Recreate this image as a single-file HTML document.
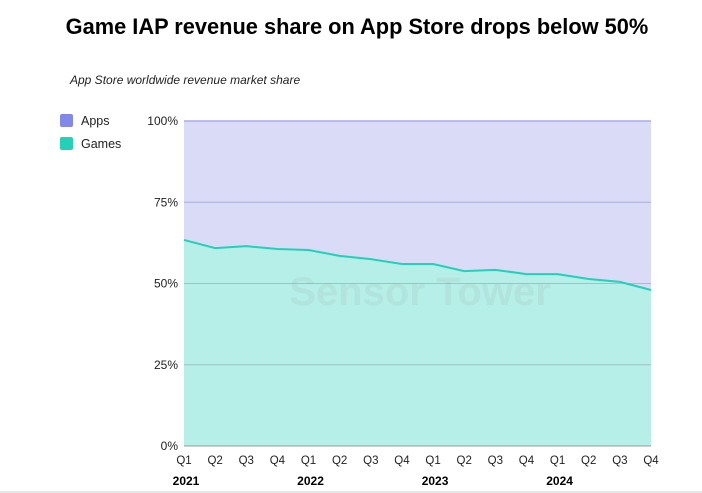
<!DOCTYPE html>
<html><head><meta charset="utf-8"><style>
body{margin:0;background:#fff;font-family:"Liberation Sans",sans-serif;}
svg{display:block}
</style></head><body>
<svg width="702" height="493">
<text x="357" y="34" text-anchor="middle" font-size="21.8" font-weight="bold" fill="#000">Game IAP revenue share on App Store drops below 50%</text>
<text x="70" y="84" font-size="12" font-style="italic" fill="#222">App Store worldwide revenue market share</text>
<rect x="60" y="114" width="13" height="13" rx="2" fill="#8288e8"/>
<text x="81" y="125" font-size="12.5" fill="#222">Apps</text>
<rect x="60" y="137" width="13" height="13" rx="2" fill="#22d1b8"/>
<text x="81" y="148" font-size="12.5" fill="#222">Games</text>
<g id="plot"></g>
<text x="420" y="305" text-anchor="middle" font-size="40" font-weight="bold" fill="#999" opacity="0.12">Sensor Tower</text>
<line x1="0" y1="492" x2="702" y2="492" stroke="#ccc"/>
</svg>
<script>
const quarters=["Q1","Q2","Q3","Q4","Q1","Q2","Q3","Q4","Q1","Q2","Q3","Q4","Q1","Q2","Q3","Q4"];
const years=["2021","2022","2023","2024"];
const games=[63.4,60.9,61.5,60.6,60.3,58.5,57.5,56,56,53.8,54.2,52.9,52.9,51.4,50.5,48];
const yTicks=[0,25,50,75,100];
const NS="http://www.w3.org/2000/svg";
const g=document.getElementById('plot');
const x0=184,x1=651,yT=121,yB=446;
const xs=i=>x0+i*(x1-x0)/(games.length-1);
const ys=v=>yB-v/100*(yB-yT);
function mk(t,a){const e=document.createElementNS(NS,t);for(const k in a)e.setAttribute(k,a[k]);g.appendChild(e);return e;}
let e=mk('rect',{x:x0,y:yT,width:x1-x0,height:yB-yT,fill:'#d9dbf7'});


let pts=games.map((v,i)=>xs(i)+','+ys(v)).join(' ');
e=mk('polygon',{points:x0+','+yB+' '+pts+' '+x1+','+yB,fill:'#b5efe7'});


yTicks.forEach(t=>{
 e=mk('line',{x1:x0,x2:x1,y1:ys(t),y2:ys(t),stroke:t==100?'#a9acea':(t==0?'#999':(t==75?'#a9acd8':'#9cc4c0')),'stroke-width':t==100?1.5:1});
 
 
 e=mk('text',{x:178,y:ys(t)+4,'text-anchor':'end','font-size':12,fill:'#222'});
 e.textContent=t+'%';
 
 
});
e=mk('polyline',{points:pts,fill:'none',stroke:'#22d1b8','stroke-width':2});


quarters.forEach((q,i)=>{
 e=mk('text',{x:xs(i),y:464,'text-anchor':'middle','font-size':11.5,fill:'#222'});
 e.textContent=q;
 
 
});
years.forEach((y,i)=>{
 e=mk('text',{x:xs(i*4)+2,y:485,'text-anchor':'middle','font-size':12,'font-weight':'bold',fill:'#000'});
 e.textContent=y;
 
 
});
</script>
</body></html>
